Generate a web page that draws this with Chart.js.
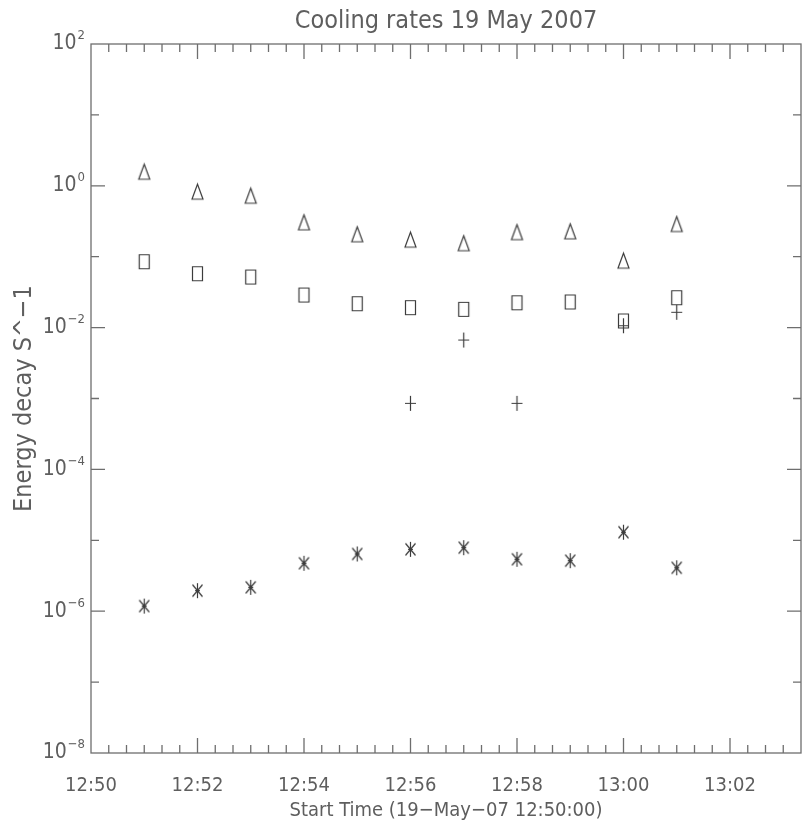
<!DOCTYPE html>
<html>
<head>
<meta charset="utf-8">
<title>Cooling rates 19 May 2007</title>
<script src="https://cdn.jsdelivr.net/npm/chart.js@4.4.1/dist/chart.umd.min.js"></script>
<style>
  html, body { margin: 0; padding: 0; background: #fff; }
  canvas { display: block; }
</style>
</head>
<body>
<canvas id="cooling" width="808" height="824"></canvas>
<script>
// start times, seconds after 12:50:00
const startSeconds = [60, 120, 180, 240, 300, 360, 420, 480, 540, 600, 660];

// decay rates (S^-1), one list per plot symbol
const triangleRates = [1.58, 0.826, 0.724, 0.305, 0.207, 0.174, 0.155, 0.222, 0.228, 0.0879, 0.289];
const squareRates = [0.0849, 0.0575, 0.0517, 0.0288, 0.0217, 0.0191, 0.0181, 0.0224, 0.0230, 0.0124, 0.0264];
const plusRates = [null, null, null, null, null, 8.55e-4, 6.68e-3, 8.55e-4, null, 0.01064, 0.01644];
const asteriskRates = [1.18e-6, 1.95e-6, 2.17e-6, 4.74e-6, 6.41e-6, 7.46e-6, 7.87e-6, 5.40e-6, 5.16e-6, 1.30e-5, 4.10e-6];

// axis ticks
const xTickSeconds = [0, 120, 240, 360, 480, 600, 720];
const yTickExponents = [2, 0, -2, -4, -6, -8];

const FONT = "'Liberation Sans Narrow', 'DejaVu Sans Condensed', sans-serif";
const INK = '#3c3c3c';
const TEXT = '#5e5e5e';
const AXIS = '#6e6e6e';

/**
 * IDL style plot symbol drawn on a small canvas, used as pointStyle
 * @param kind {string} triangle | square | plus | asterisk
 * @return {HTMLCanvasElement}
 */
function makeSymbol(kind) {
    const w = 11, h = 15, pad = 2;
    const c = document.createElement('canvas');
    c.width = w + 2 * pad;
    c.height = h + 2 * pad;
    const g = c.getContext('2d');
    g.strokeStyle = INK;
    g.lineWidth = 1.2;
    g.translate(pad, pad);
    g.beginPath();
    if (kind === 'triangle') {
        g.moveTo(0, h);
        g.lineTo(w / 2, 0);
        g.lineTo(w, h);
        g.closePath();
    } else if (kind === 'square') {
        g.rect(0.5, 0.5, w - 1, h - 1);
    } else if (kind === 'plus') {
        g.moveTo(0, h / 2);
        g.lineTo(w, h / 2);
        g.moveTo(w / 2, 0);
        g.lineTo(w / 2, h);
    } else if (kind === 'asterisk') {
        g.moveTo(w / 2, 0);
        g.lineTo(w / 2, h);
        g.moveTo(0.5, 1.5);
        g.lineTo(w - 0.5, h - 1.5);
        g.moveTo(0.5, h - 1.5);
        g.lineTo(w - 0.5, 1.5);
        g.moveTo(w / 2 - 2.5, h / 2);
        g.lineTo(w / 2 + 2.5, h / 2);
    }
    g.stroke();
    return c;
}

function toPoints(values) {
    return startSeconds
        .map((s, i) => ({x: s, y: values[i]}))
        .filter(p => p.y !== null);
}

function clockLabel(seconds) {
    const total = 12 * 60 + 50 + Math.round(seconds / 60);
    const hh = Math.floor(total / 60);
    const mm = total % 60;
    return hh + ':' + String(mm).padStart(2, '0');
}

function symbolSet(values, kind) {
    return {
        data: toPoints(values),
        showLine: false,
        pointStyle: makeSymbol(kind),
        pointRadius: 7,
        pointHoverRadius: 7,
        borderWidth: 0
    };
}

// frame, inward tick marks and the 10^n labels of the log axis
const idlFrame = {
    id: 'idlFrame',
    afterDraw(chart) {
        const {ctx, chartArea: a, scales: {x, y}} = chart;
        ctx.save();
        ctx.strokeStyle = AXIS;
        ctx.lineWidth = 1.3;
        ctx.strokeRect(a.left, a.top, a.right - a.left, a.bottom - a.top);

        ctx.beginPath();
        for (let s = 20; s < x.max; s += 20) {
            const px = x.getPixelForValue(s);
            const len = s % 120 === 0 ? 15 : 8;
            ctx.moveTo(px, a.bottom);
            ctx.lineTo(px, a.bottom - len);
            ctx.moveTo(px, a.top);
            ctx.lineTo(px, a.top + len);
        }
        for (let k = -7; k < 2; k++) {
            const py = y.getPixelForValue(Math.pow(10, k));
            const len = k % 2 === 0 ? 14 : 8;
            ctx.moveTo(a.left, py);
            ctx.lineTo(a.left + len, py);
            ctx.moveTo(a.right, py);
            ctx.lineTo(a.right - len, py);
        }
        ctx.stroke();

        ctx.fillStyle = TEXT;
        ctx.textBaseline = 'middle';
        y.ticks.forEach(t => {
            const py = y.getPixelForValue(t.value);
            const exp = String(Math.round(Math.log10(t.value))).replace('-', '\u2212');
            ctx.font = '13px ' + FONT;
            const ew = ctx.measureText(exp).width;
            const right = a.left - 6;
            ctx.textAlign = 'right';
            ctx.fillText(exp, right, py - 8);
            ctx.font = '21px ' + FONT;
            ctx.fillText('10', right - ew - 1, py);
        });
        ctx.restore();
    }
};

new Chart(document.getElementById('cooling'), {
    type: 'scatter',
    data: {
        datasets: [
            symbolSet(triangleRates, 'triangle'),
            symbolSet(squareRates, 'square'),
            symbolSet(plusRates, 'plus'),
            symbolSet(asteriskRates, 'asterisk')
        ]
    },
    options: {
        responsive: false,
        animation: false,
        layout: {padding: {top: 0, right: 2, bottom: 0, left: 0}},
        plugins: {
            legend: {display: false},
            tooltip: {enabled: false},
            title: {
                display: true,
                fullSize: false,
                text: 'Cooling rates 19 May 2007',
                color: TEXT,
                font: {family: FONT, size: 25, weight: 'normal', lineHeight: 1.2},
                padding: {top: 6, bottom: 8}
            }
        },
        scales: {
            x: {
                type: 'linear',
                min: 0,
                max: 800,
                grid: {display: false},
                border: {display: false},
                afterBuildTicks: scale => {
                    scale.ticks = xTickSeconds.map(v => ({value: v}));
                },
                afterFit: scale => {
                    scale.height = 71;
                },
                ticks: {
                    autoSkip: false,
                    maxRotation: 0,
                    padding: 13,
                    color: TEXT,
                    font: {family: FONT, size: 20},
                    callback: v => clockLabel(v)
                },
                title: {
                    display: true,
                    text: 'Start Time (19\u2212May\u221207 12:50:00)',
                    color: TEXT,
                    font: {family: FONT, size: 20, lineHeight: 1},
                    padding: {top: 0, bottom: 3}
                }
            },
            y: {
                type: 'logarithmic',
                min: 1e-8,
                max: 1e2,
                grid: {display: false},
                border: {display: false},
                afterBuildTicks: scale => {
                    scale.ticks = yTickExponents.map(e => ({value: Math.pow(10, e)}));
                },
                afterFit: scale => {
                    scale.width = 91;
                },
                ticks: {display: false},
                title: {
                    display: true,
                    text: 'Energy decay S^\u22121',
                    color: TEXT,
                    font: {family: FONT, size: 25, lineHeight: 1},
                    padding: {top: 12, bottom: 0}
                }
            }
        }
    },
    plugins: [idlFrame]
});
</script>
</body>
</html>
